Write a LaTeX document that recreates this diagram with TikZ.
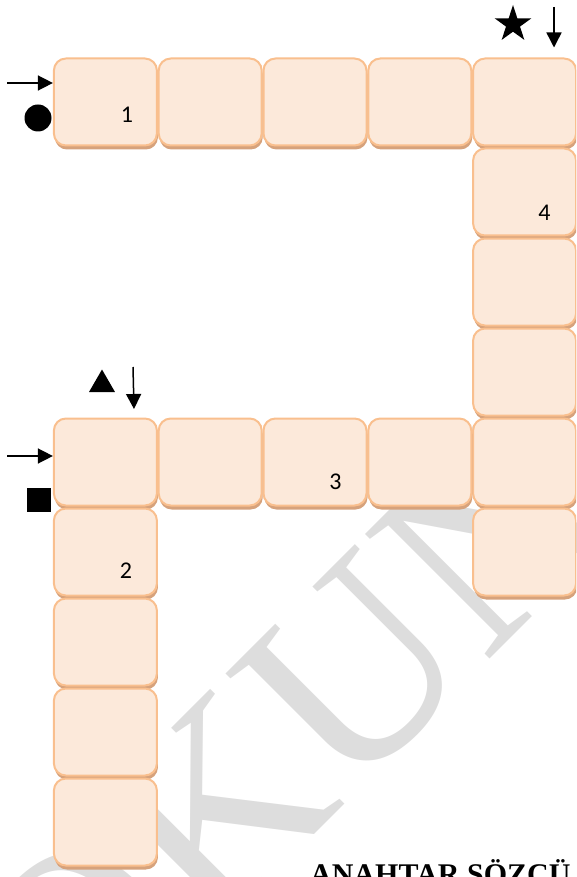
\documentclass[tikz,border=0pt]{standalone}
\usepackage{fontspec}
\usepackage{tikz}
\usetikzlibrary{positioning,arrows.meta,shapes.geometric,shadows}
\newfontfamily\cellfont{Carlito}
\newfontfamily\markfont{Liberation Serif}
\definecolor{cellfill}{HTML}{FCE9DA}
\definecolor{cellline}{HTML}{F9BF8E}
\definecolor{cellshade}{HTML}{D6A27C}
\definecolor{wmgray}{HTML}{DDDDDD}

\begin{document}
\begin{tikzpicture}[
  x=1pt, y=-1pt,
  cell/.style={draw=cellline, fill=cellfill, line width=2pt, rounded corners=12pt,
    minimum width=103pt, minimum height=87pt, inner sep=0pt,
    drop shadow={shadow xshift=1pt, shadow yshift=-4pt, fill=cellshade, draw=none, opacity=1}},
  num/.style={font=\cellfont\fontsize{24}{24}\selectfont, inner sep=0pt},
  mrk/.style={fill=black, draw=none, inner sep=0pt},
  arr/.style={-{Triangle[length=15pt, width=15pt]}, line width=1.5pt}
]
\useasboundingbox (0,0) rectangle (576,877);
\clip (0,0) rectangle (576,877);

% Filigran (arka planda)
\node[wmgray, font=\markfont\fontsize{269}{269}\selectfont, anchor=base west, rotate=45, inner sep=0pt] (wm) at (72,1077) {OKUN};

% Üst satır (1)
\node[cell] (top1) at (105.4,102) {};
\node[cell] (top2) at (210.2,102) {};
\node[cell] (top3) at (315,102)   {};
\node[cell] (top4) at (419.8,102) {};
\node[cell] (top5) at (524.6,102) {};
% Sağ sütun (4)
\node[cell] (rgt1) at (524.6,192) {};
\node[cell] (rgt2) at (524.6,282) {};
\node[cell] (rgt3) at (524.6,372) {};
\node[cell] (rgt4) at (524.6,462) {};
\node[cell] (rgt5) at (524.6,552) {};
% Orta satır (3)
\node[cell] (mid1) at (105.4,462) {};
\node[cell] (mid2) at (210.2,462) {};
\node[cell] (mid3) at (315,462)   {};
\node[cell] (mid4) at (419.8,462) {};
% Sol sütun (2)
\node[cell] (lft1) at (105.4,552) {};
\node[cell] (lft2) at (105.4,642) {};
\node[cell] (lft3) at (105.4,732) {};
\node[cell] (lft4) at (105.4,822) {};

% Numaralar
\node[num] (n1) at (127,114.5) {1};
\node[num] (n2) at (126,571)   {2};
\node[num] (n3) at (335.5,482) {3};
\node[num] (n4) at (544.5,213) {4};

% İşaretler
\node[mrk, circle, minimum size=27pt] (dot) at (38,118) {};
\node[mrk, star, star points=5, star point ratio=2.618, minimum size=38.6pt] (str) at (513,24.3) {};
\node[mrk, regular polygon, regular polygon sides=3, minimum size=30pt] (tri) at (102,384.5) {};
\node[mrk, rectangle, minimum size=24pt] (sqr) at (39,500) {};

% Başlangıç okları
\coordinate (in1) at (7,83);
\draw[arr] (in1) -- (in1 -| top1.west);
\coordinate (in4) at (554,7);
\draw[arr, shorten >=10pt] (in4) -- (in4 |- top5.north);
\coordinate (in2) at (7,456);
\draw[arr] (in2) -- (in2 -| mid1.west);
\coordinate (in3) at (133,367);
\coordinate (to3) at (134,409);
\draw[arr] (in3) -- (to3);

% Alt başlık (kesik)
\node[font=\markfont\bfseries\fontsize{30}{30}\selectfont, anchor=base west, inner sep=0pt] (kw) at (310,884) {ANAHTAR SÖZCÜ};
\end{tikzpicture}
\end{document}
